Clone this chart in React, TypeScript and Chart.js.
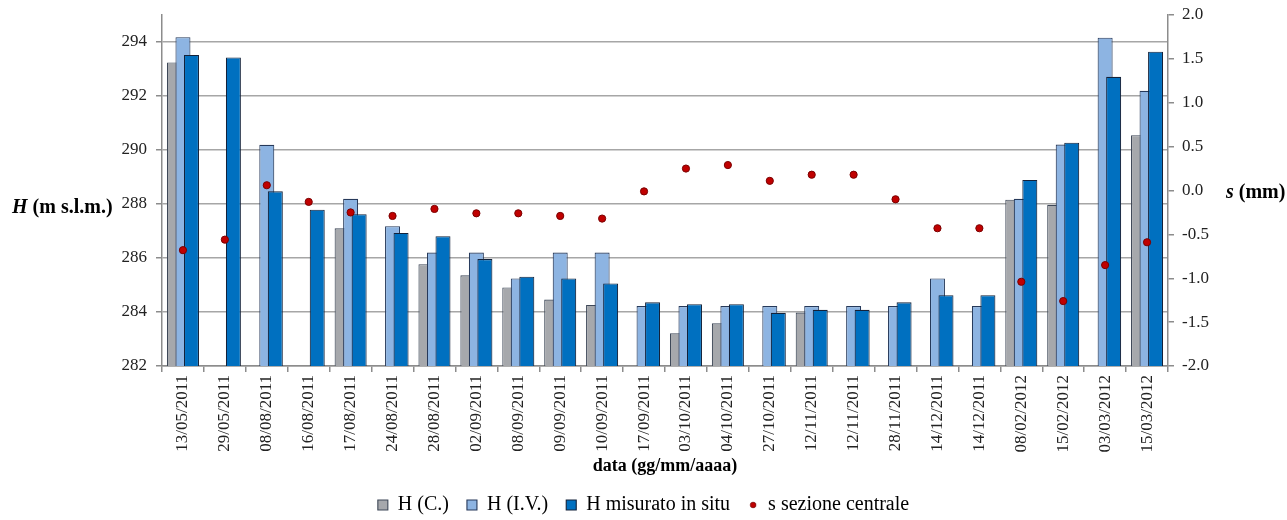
import React, { useEffect, useRef } from 'react';
import { Chart, registerables } from 'chart.js';

Chart.register(...registerables);

const categories = [
  '13/05/2011', '29/05/2011', '08/08/2011', '16/08/2011', '17/08/2011', '24/08/2011',
  '28/08/2011', '02/09/2011', '08/09/2011', '09/09/2011', '10/09/2011', '17/09/2011',
  '03/10/2011', '04/10/2011', '27/10/2011', '12/11/2011', '12/11/2011', '28/11/2011',
  '14/12/2011', '14/12/2011', '08/02/2012', '15/02/2012', '03/03/2012', '15/03/2012',
];

const hC = [
  293.24, null, null, null, 287.1, null, 285.77, 285.36, 284.91, 284.46, 284.26, null,
  283.21, 283.58, null, 283.98, null, null, null, null, 288.16, 287.97, null, 290.55,
];

const hIV = [
  294.18, null, 290.19, null, 288.19, 287.18, 286.2, 286.2, 285.24, 286.2, 286.2, 284.22,
  284.22, 284.22, 284.22, 284.22, 284.22, 284.22, 285.24, 284.22, 288.19, 290.2, 294.16, 292.19,
];

const hMisurato = [
  293.52, 293.43, 288.47, 287.79, 287.62, 286.93, 286.81, 285.96, 285.31, 285.24, 285.06, 284.36,
  284.29, 284.29, 283.97, 284.08, 284.08, 284.36, 284.62, 284.62, 288.89, 290.27, 292.71, 293.64,
];

const sSezioneCentrale = [
  -0.68, -0.56, 0.06, -0.13, -0.25, -0.29, -0.21, -0.26, -0.26, -0.29, -0.32, -0.01,
  0.25, 0.29, 0.11, 0.18, 0.18, -0.1, -0.43, -0.43, -1.04, -1.26, -0.85, -0.59,
];

const seriesNames = ['H (C.)', 'H (I.V.)', 'H misurato in situ', 's sezione centrale'];
const xTitle = 'data (gg/mm/aaaa)';
const leftTitle = ['H', ' (m s.l.m.)'];
const rightTitle = ['s', ' (mm)'];

const SERIF = '"Liberation Serif", "Times New Roman", serif';
const AXIS = '#8c8c8c';
const GRID = '#a6a6a6';

// draw bars so that the right-hand bar of each group lies on top (as in Excel)
const drawOrderPlugin = {
  id: 'drawOrder',
  beforeDatasetsDraw(chart: any) {
    const { ctx, chartArea } = chart;
    [0, 1, 2, 3].forEach((i) => {
      if (!chart.isDatasetVisible(i)) return;
      const meta = chart.getDatasetMeta(i);
      ctx.save();
      ctx.beginPath();
      ctx.rect(chartArea.left, chartArea.top - 10, chartArea.width, chartArea.height + 10);
      ctx.clip();
      meta.controller.draw();
      ctx.restore();
    });
    return false;
  },
};

const axisTitlesPlugin = {
  id: 'axisTitles',
  afterDraw(chart: any) {
    const { ctx, chartArea } = chart;
    ctx.save();
    ctx.fillStyle = '#000';
    ctx.textBaseline = 'middle';
    ctx.textAlign = 'left';
    const drawMixed = (parts: string[], x: number, y: number) => {
      let cx = x;
      parts.forEach((t, k) => {
        ctx.font = (k === 0 ? 'italic bold 20px ' : 'bold 20px ') + SERIF;
        ctx.fillText(t, cx, y);
        cx += ctx.measureText(t).width;
      });
    };
    drawMixed(leftTitle, chartArea.left - 150, chartArea.top + 193);
    drawMixed(rightTitle, chartArea.right + 58, chartArea.top + 178);
    ctx.restore();
  },
};

export default function App() {
  const canvasRef = useRef<HTMLCanvasElement | null>(null);

  useEffect(() => {
    if (!canvasRef.current) return;

    const dot = document.createElement('canvas');
    dot.width = 10;
    dot.height = 10;
    const dctx = dot.getContext('2d');
    if (dctx) {
      dctx.beginPath();
      dctx.arc(5, 5, 2.8, 0, Math.PI * 2);
      dctx.fillStyle = '#c00000';
      dctx.fill();
      dctx.lineWidth = 0.8;
      dctx.strokeStyle = '#7a0000';
      dctx.stroke();
    }

    const barCommon = {
      type: 'bar' as const,
      yAxisID: 'y',
      borderWidth: 1.1,
      borderSkipped: false as const,
      categoryPercentage: 0.61,
      barPercentage: 1.76,
    };

    const chart = new Chart(canvasRef.current, {
      type: 'bar',
      data: {
        labels: categories,
        datasets: [
          { ...barCommon, label: seriesNames[0], data: hC, backgroundColor: '#a6a8ac', borderColor: '#3e4858' },
          { ...barCommon, label: seriesNames[1], data: hIV, backgroundColor: '#8db4e2', borderColor: '#26395a' },
          { ...barCommon, label: seriesNames[2], data: hMisurato, backgroundColor: '#0070c0', borderColor: '#14223a' },
          {
            type: 'line',
            label: seriesNames[3],
            data: sSezioneCentrale,
            yAxisID: 'y1',
            showLine: false,
            pointRadius: 3.6,
            pointHoverRadius: 3.6,
            pointBackgroundColor: '#c00000',
            pointBorderColor: '#7a0000',
            pointBorderWidth: 1,
            backgroundColor: '#c00000',
            borderColor: '#7a0000',
          } as any,
        ],
      },
      options: {
        responsive: false,
        animation: false,
        layout: { padding: { top: 15, bottom: -5, left: 0, right: 0 } },
        plugins: {
          tooltip: { enabled: false },
          legend: {
            position: 'bottom',
            labels: {
              usePointStyle: true,
              boxWidth: 10,
              boxHeight: 10,
              padding: 18,
              color: '#000',
              font: { family: SERIF, size: 20 },
              generateLabels: (c: any) => {
                const items = (Chart.defaults.plugins.legend.labels as any).generateLabels(c);
                items.forEach((it: any, i: number) => {
                  it.pointStyle = i === 3 ? dot : 'rect';
                });
                return items;
              },
            },
          },
        },
        scales: {
          x: {
            type: 'category',
            offset: true,
            grid: {
              offset: true,
              drawOnChartArea: false,
              drawTicks: true,
              tickLength: 6,
              color: AXIS,
              lineWidth: 1.5,
            },
            border: { color: AXIS, width: 1.5 },
            ticks: {
              autoSkip: false,
              minRotation: 90,
              maxRotation: 90,
              padding: 3,
              color: '#222',
              font: { family: SERIF, size: 17 },
            },
            title: {
              display: true,
              text: xTitle,
              color: '#000',
              font: { family: SERIF, size: 18, weight: 'bold' },
              padding: { top: 0, bottom: 0 },
            },
            afterFit: (s: any) => {
              s.height = 111;
            },
          },
          y: {
            type: 'linear',
            position: 'left',
            min: 282,
            max: 295,
            ticks: {
              stepSize: 2,
              includeBounds: false,
              padding: 9,
              color: '#222',
              font: { family: SERIF, size: 17 },
            },
            grid: {
              color: GRID,
              lineWidth: 1.5,
              tickLength: 6,
              tickColor: AXIS,
            },
            border: { color: AXIS, width: 1.5 },
            afterFit: (s: any) => {
              s.width = 162;
              s.paddingTop = 0;
              s.paddingBottom = 0;
            },
          },
          y1: {
            type: 'linear',
            position: 'right',
            min: -2,
            max: 2,
            ticks: {
              stepSize: 0.5,
              padding: 8,
              color: '#222',
              font: { family: SERIF, size: 17 },
              callback: (v: any) => Number(v).toFixed(1),
            },
            grid: {
              drawOnChartArea: false,
              tickLength: 6,
              color: AXIS,
              lineWidth: 1.5,
            },
            border: { color: AXIS, width: 1.5 },
            afterFit: (s: any) => {
              s.width = 119;
              s.paddingTop = 0;
              s.paddingBottom = 0;
            },
          },
        },
      } as any,
      plugins: [drawOrderPlugin, axisTitlesPlugin],
    });

    return () => chart.destroy();
  }, []);

  return (
    <div style={{ position: 'absolute', top: 0, left: 0, width: 1287, height: 520, background: '#fff' }}>
      <canvas ref={canvasRef} width={1287} height={520} style={{ display: 'block' }} />
    </div>
  );
}
